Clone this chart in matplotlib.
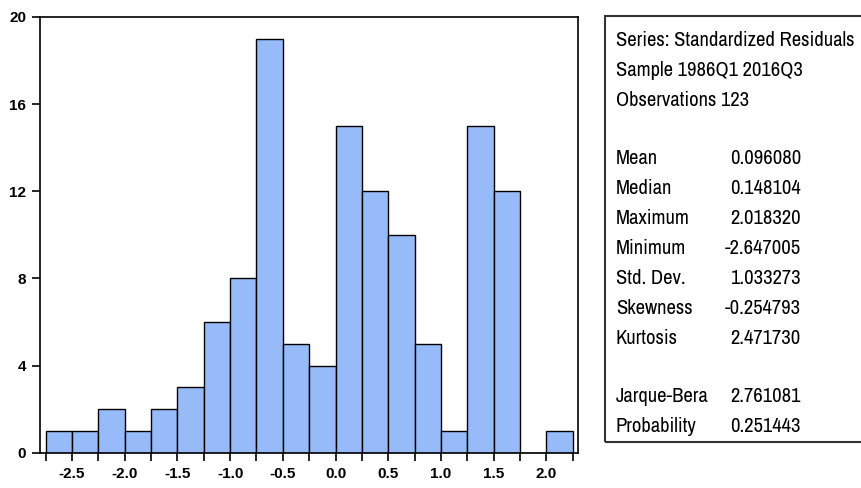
import matplotlib
matplotlib.use("Agg")
import matplotlib.pyplot as plt
from matplotlib import font_manager
import numpy as np

# Data
bin_left = [-2.75, -2.5, -2.25, -2.0, -1.75, -1.5, -1.25, -1.0, -0.75, -0.5,
            -0.25, 0.0, 0.25, 0.5, 0.75, 1.0, 1.25, 1.5, 1.75, 2.0]
counts = [1, 1, 2, 1, 2, 3, 6, 8, 19, 5, 4, 15, 12, 10, 5, 1, 15, 12, 0, 1]
bin_width = 0.25
xtick_vals = [-2.5, -2.0, -1.5, -1.0, -0.5, 0.0, 0.5, 1.0, 1.5, 2.0]
ytick_vals = [0, 4, 8, 12, 16, 20]

header_lines = ["Series: Standardized Residuals", "Sample 1986Q1 2016Q3", "Observations 123"]
stat_names = ["Mean", "Median", "Maximum", "Minimum", "Std. Dev.", "Skewness", "Kurtosis",
              "", "Jarque-Bera", "Probability"]
stat_values = ["0.096080", "0.148104", "2.018320", "-2.647005", "1.033273", "-0.254793",
               "2.471730", "", "2.761081", "0.251443"]

# find a condensed font if one is available
cond = None
for f in font_manager.fontManager.ttflist:
    if "Narrow" in f.name or "Condensed" in f.name:
        cond = (f.name, "normal")
        break
if cond is None:
    for f in font_manager.fontManager.ttflist:
        if f.name in ("DejaVu Sans", "Open Sans", "Noto Sans", "Roboto") and \
           str(f.stretch) in ("condensed", "semi-condensed", "75", "87", "62"):
            cond = (f.name, "condensed")
            break

if cond:
    text_family = [cond[0], "Liberation Sans", "DejaVu Sans"]
    stretch = cond[1]
    fs = 14.8
else:
    text_family = ["Liberation Sans", "DejaVu Sans"]
    stretch = "normal"
    fs = 12.3

tick_family = ["Liberation Sans", "DejaVu Sans"]

fig = plt.figure(figsize=(8.62, 4.88), dpi=100)
ax = fig.add_axes([40/862, 1-452.7/488, (577.7-40)/862, (452.7-17)/488])

ax.bar(bin_left, counts, width=bin_width, align="edge", color="#97BBF9",
       edgecolor="black", linewidth=1.0)
ax.set_xlim(-2.804, 2.298)
ax.set_ylim(0, 20)
ax.set_xticks(xtick_vals)
ax.set_xticks(np.array(bin_left + [2.25]), minor=True)
ax.set_xticklabels([f"{v:.1f}" for v in xtick_vals])
ax.set_yticks(ytick_vals)
ax.tick_params(axis="both", which="both", direction="out", length=6, width=1.2,
               labelsize=11, pad=4)
for lab in ax.get_xticklabels() + ax.get_yticklabels():
    lab.set_fontweight("bold")
    lab.set_family(tick_family)
for s in ax.spines.values():
    s.set_linewidth(1.2)

# Stats box
box_l, box_t, box_b = 605/862, 1-16/488, 1-441.7/488
rect = plt.Rectangle((box_l, box_b), 1.0 - box_l + 0.01, box_t - box_b, transform=fig.transFigure,
                     fill=False, edgecolor="#333333", linewidth=1.5, clip_on=False)
fig.patches.append(rect)

x_name = 616/862
x_val = 801/862
y0 = 40
step = 30
for i, t in enumerate(header_lines):
    fig.text(x_name, 1-(y0 + i*step)/488, t, fontsize=fs, family=text_family,
             stretch=stretch, va="center", ha="left")
y1 = 158
for i, (n, v) in enumerate(zip(stat_names, stat_values)):
    if not n:
        continue
    y = 1-(y1 + i*step - (0 if i < 7 else 1))/488
    fig.text(x_name, y, n, fontsize=fs, family=text_family, stretch=stretch, va="center", ha="left")
    fig.text(x_val, y, v, fontsize=fs, family=text_family, stretch=stretch, va="center", ha="right")

fig.savefig("out.png", dpi=100)
